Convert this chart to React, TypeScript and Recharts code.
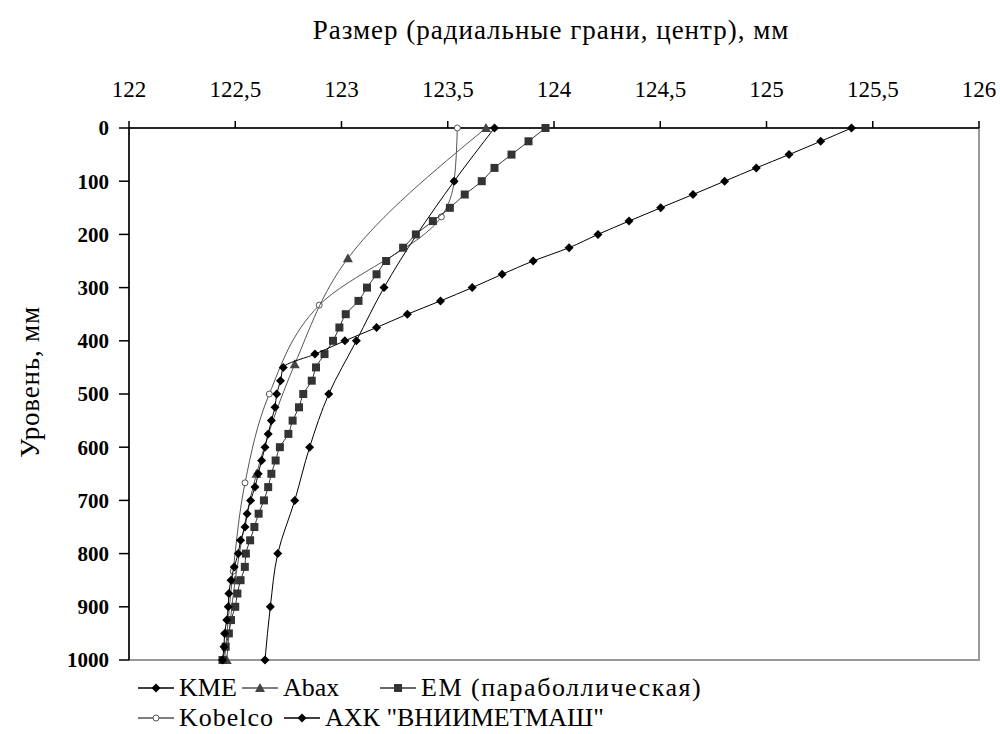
import { ScatterChart, Scatter, XAxis, YAxis, ReferenceArea } from 'recharts';

const FONT = '"Liberation Serif", "Tinos", "DejaVu Serif", "Noto Serif", serif';

// levels (mm) and measured sizes (mm)
const kmeLevels = [0, 100, 300, 400, 500, 600, 700, 800, 900, 1000];
const kmeValues = [123.72, 123.53, 123.2, 123.07, 122.94, 122.85, 122.78, 122.7, 122.665, 122.64];

const abaxLevels = [0, 245, 444, 650, 850, 1000];
const abaxValues = [123.68, 123.03, 122.78, 122.6, 122.5, 122.46];

const emLevels = [
  0, 25, 50, 75, 100, 125, 150, 175, 200, 225, 250, 275, 300, 325, 350, 375, 400, 425, 450, 475, 500,
  525, 550, 575, 600, 625, 650, 675, 700, 725, 750, 775, 800, 825, 850, 875, 900, 925, 950, 975, 1000,
];
const emValues = [
  123.96, 123.88, 123.8, 123.72, 123.66, 123.58, 123.51, 123.43, 123.35, 123.29, 123.21, 123.165,
  123.12, 123.08, 123.02, 122.99, 122.96, 122.92, 122.88, 122.86, 122.82, 122.8, 122.77, 122.75,
  122.71, 122.69, 122.67, 122.655, 122.635, 122.61, 122.59, 122.57, 122.55, 122.545, 122.525,
  122.51, 122.5, 122.48, 122.47, 122.455, 122.44,
];

const kobelcoLevels = [0, 100, 167, 333, 500, 667, 833, 1000];
const kobelcoValues = [123.545, 123.53, 123.47, 122.895, 122.66, 122.546, 122.49, 122.45];

const axkLevels = emLevels;
const axkValues = [
  125.4, 125.255, 125.106, 124.952, 124.803, 124.654, 124.502, 124.353, 124.207, 124.071, 123.902,
  123.756, 123.615, 123.466, 123.31, 123.165, 123.016, 122.875, 122.726, 122.713, 122.695, 122.687,
  122.67, 122.655, 122.64, 122.624, 122.608, 122.593, 122.572, 122.556, 122.546, 122.525, 122.514,
  122.495, 122.48, 122.47, 122.467, 122.46, 122.45, 122.447, 122.44,
];

const xTicks = [122, 122.5, 123, 123.5, 124, 124.5, 125, 125.5, 126];
const yTicks = [0, 100, 200, 300, 400, 500, 600, 700, 800, 900, 1000];

const toPoints = (levels: number[], values: number[]) =>
  levels.map((y, i) => ({ x: values[i], y }));

type MarkerKind = 'diamond' | 'triangle' | 'square' | 'circle';

const Marker = ({ kind, cx, cy, color }: { kind: MarkerKind; cx: number; cy: number; color: string }) => {
  if (kind === 'diamond') {
    const r = 4.5;
    return <polygon points={`${cx},${cy - r} ${cx + r},${cy} ${cx},${cy + r} ${cx - r},${cy}`} fill={color} />;
  }
  if (kind === 'triangle') {
    const r = 5;
    return <polygon points={`${cx},${cy - r} ${cx + r},${cy + r * 0.8} ${cx - r},${cy + r * 0.8}`} fill={color} />;
  }
  if (kind === 'square') {
    return <rect x={cx - 4} y={cy - 4} width={8} height={8} fill={color} />;
  }
  return <circle cx={cx} cy={cy} r={3} fill="#fff" stroke={color} strokeWidth={1} />;
};

const series = [
  { name: 'KME', data: toPoints(kmeLevels, kmeValues), kind: 'diamond' as MarkerKind, color: '#000', line: '#000', ls: 0 },
  { name: 'Abax', data: toPoints(abaxLevels, abaxValues), kind: 'triangle' as MarkerKind, color: '#444', line: '#555', ls: 0 },
  { name: 'EM (параболлическая)', data: toPoints(emLevels, emValues), kind: 'square' as MarkerKind, color: '#333', line: '#333', ls: 1.5 },
  { name: 'Kobelco', data: toPoints(kobelcoLevels, kobelcoValues), kind: 'circle' as MarkerKind, color: '#555', line: '#555', ls: 1 },
  { name: 'АХК "ВНИИМЕТМАШ"', data: toPoints(axkLevels, axkValues), kind: 'diamond' as MarkerKind, color: '#000', line: '#000', ls: 0 },
];

// drawing order: Kobelco under the others so its hidden marker at 100 stays hidden
const drawOrder = [3, 0, 1, 2, 4];

const legendRows = [
  [{ i: 0, left: 136 }, { i: 1, left: 240 }, { i: 2, left: 378 }],
  [{ i: 3, left: 136 }, { i: 4, left: 282 }],
];

const LegendItem = ({ idx, left, top }: { idx: number; left: number; top: number }) => {
  const s = series[idx];
  return (
    <div style={{ position: 'absolute', left, top, display: 'flex', alignItems: 'center', whiteSpace: 'nowrap' }}>
      <svg width={40} height={20}>
        <line x1={2} y1={10} x2={38} y2={10} stroke={s.line} strokeWidth={1.5} />
        <Marker kind={s.kind} cx={20} cy={10} color={s.color} />
      </svg>
      <span style={{ fontFamily: FONT, fontSize: 26, marginLeft: 3, lineHeight: '30px', letterSpacing: s.ls }}>
        {s.name}
      </span>
    </div>
  );
};

export default function App() {
  return (
    <div style={{ position: 'absolute', left: 0, top: 0, width: 1000, height: 734, background: '#fff' }}>
      <ScatterChart width={1000} height={734} margin={{ top: 68, right: 21, bottom: 74, left: 0 }}>
        <ReferenceArea x1={122} x2={126} y1={0} y2={1000} fill="none" stroke="#999" strokeWidth={2} />
        <XAxis
          type="number"
          dataKey="x"
          orientation="top"
          domain={[122, 126]}
          ticks={xTicks}
          height={60}
          tickSize={7}
          tickMargin={24}
          tickFormatter={(v: number) => String(v).replace('.', ',')}
          tick={{ fontFamily: FONT, fontSize: 23, fill: '#000' }}
          axisLine={{ stroke: '#000', strokeWidth: 1.5 }}
          tickLine={{ stroke: '#000', strokeWidth: 1.5 }}
        />
        <YAxis
          type="number"
          dataKey="y"
          reversed
          domain={[0, 1000]}
          ticks={yTicks}
          width={129}
          tickSize={10}
          tickMargin={10}
          tick={{ fontFamily: FONT, fontSize: 21, fontWeight: 'bold', fill: '#000' }}
          axisLine={{ stroke: '#000', strokeWidth: 1.5 }}
          tickLine={{ stroke: '#000', strokeWidth: 1.5 }}
        />
        {drawOrder.map((i) => {
          const s = series[i];
          return (
            <Scatter
              key={s.name}
              name={s.name}
              data={s.data}
              line={{ stroke: s.line, strokeWidth: 1 }}
              lineJointType="monotoneY"
              isAnimationActive={false}
              shape={(p: any) => <Marker kind={s.kind} cx={p.cx} cy={p.cy} color={s.color} />}
            />
          );
        })}
      </ScatterChart>
      <div
        style={{
          position: 'absolute', left: 250, top: 14, width: 602, textAlign: 'center',
          fontFamily: FONT, fontSize: 27, lineHeight: '32px', whiteSpace: 'nowrap', letterSpacing: 1,
        }}
      >
        Размер (радиальные грани, центр), мм
      </div>
      <div
        style={{
          position: 'absolute', left: 30 - 100, top: 382 - 16, width: 200, height: 32, textAlign: 'center',
          fontFamily: FONT, fontSize: 27, lineHeight: '32px', transform: 'rotate(-90deg)', whiteSpace: 'nowrap',
          letterSpacing: 0.8,
        }}
      >
        Уровень, мм
      </div>
      {legendRows.map((row, r) =>
        row.map((it) => <LegendItem key={it.i} idx={it.i} left={it.left} top={r === 0 ? 673 : 703} />)
      )}
    </div>
  );
}
